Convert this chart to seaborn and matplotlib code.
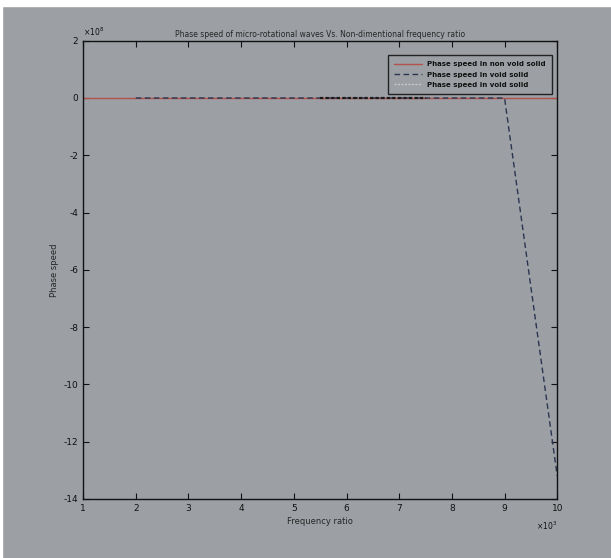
import numpy as np
import pandas as pd
import matplotlib
matplotlib.use("Agg")
import matplotlib.pyplot as plt
import seaborn as sns
from matplotlib.ticker import FuncFormatter

# frequency ratio (x 10^3) and phase speeds (x 10^8)
freq_ratio = [1, 2, 3, 4, 5, 6, 7, 8, 9, 10]
speed_non_void = [0, 0, 0, 0, 0, 0, 0, 0, 0, 0]
freq_void = [2, 3, 4, 5, 6, 7, 8, 9, 10]
speed_void = [0, 0, 0, 0, 0, 0, 0, 0, -13.2]
freq_void2 = [5.5, 6, 6.5, 7, 7.5]
speed_void2 = [0, 0, 0, 0, 0]

bg = "#9c9fa4"
sns.set_style("ticks")
plt.rcParams['font.family'] = ['DejaVu Sans']
plt.rcParams['axes.unicode_minus'] = False

fig = plt.figure(figsize=(6.11, 5.58), dpi=100, facecolor=bg)
ax = fig.add_axes([0.136, 0.106, 0.776, 0.821], facecolor=bg)

df1 = pd.DataFrame({'x': np.array(freq_ratio) * 1e3, 'y': np.array(speed_non_void) * 1e8})
df2 = pd.DataFrame({'x': np.array(freq_void) * 1e3, 'y': np.array(speed_void) * 1e8})
df3 = pd.DataFrame({'x': np.array(freq_void2) * 1e3, 'y': np.array(speed_void2) * 1e8})

sns.lineplot(data=df1, x='x', y='y', ax=ax, color='#b5514a', lw=1.0,
             label='Phase speed in non void solid')
sns.lineplot(data=df2, x='x', y='y', ax=ax, color='#2a3550', lw=1.0,
             linestyle=(0, (4, 2.5)), label='Phase speed in void solid')
sns.lineplot(data=df3, x='x', y='y', ax=ax, color='#1a1a1a', lw=1.6,
             linestyle=(0, (1.5, 1)), label='Phase speed in void solid')

ax.set_xlim(1e3, 1e4)
ax.set_ylim(-14e8, 2e8)
ax.set_xticks(np.arange(1, 11) * 1e3)
ax.set_yticks(np.arange(-14, 3, 2) * 1e8)
ax.xaxis.set_major_formatter(FuncFormatter(lambda v, _: f"{v / 1e3:g}"))
ax.yaxis.set_major_formatter(FuncFormatter(lambda v, _: f"{v / 1e8:g}"))
ax.text(0.0, 1.005, r'$\times10^{8}$', transform=ax.transAxes, fontsize=5.5,
        ha='left', va='bottom', color='#111111')
ax.text(1.0, -0.045, r'$\times10^{3}$', transform=ax.transAxes, fontsize=5.5,
        ha='right', va='top', color='#111111')

ax.tick_params(direction='in', top=True, right=True, length=4, width=0.8,
               labelsize=6.5, colors='#111111')
for s in ax.spines.values():
    s.set_color('#111111')
    s.set_linewidth(1.0)

ax.set_title('Phase speed of micro-rotational waves Vs. Non-dimentional frequency ratio',
             fontsize=5.5, pad=3)
ax.set_xlabel('Frequency ratio', fontsize=6, labelpad=3)
ax.set_ylabel('Phase speed', fontsize=6, labelpad=3)

leg = ax.legend(loc='upper right', bbox_to_anchor=(0.997, 0.976), fontsize=5,
                frameon=True, fancybox=False, handlelength=4,
                borderpad=0.9, labelspacing=0.6)
leg.get_frame().set_facecolor(bg)
leg.get_frame().set_edgecolor('#222222')
leg.get_frame().set_alpha(1)
leg.legend_handles[2].set_color('#c8cacd')
leg.legend_handles[2].set_linewidth(1.0)
for t in leg.get_texts():
    t.set_fontweight('bold')
    t.set_color('#111111')

# white strip at top / left edges like the scan
fig.patches.append(plt.Rectangle((0, 0.989), 1, 0.011, transform=fig.transFigure,
                                 color='white', zorder=0))
fig.patches.append(plt.Rectangle((0, 0), 0.004, 1, transform=fig.transFigure,
                                 color='white', zorder=0))

fig.savefig('out.png', dpi=100, facecolor=bg)
